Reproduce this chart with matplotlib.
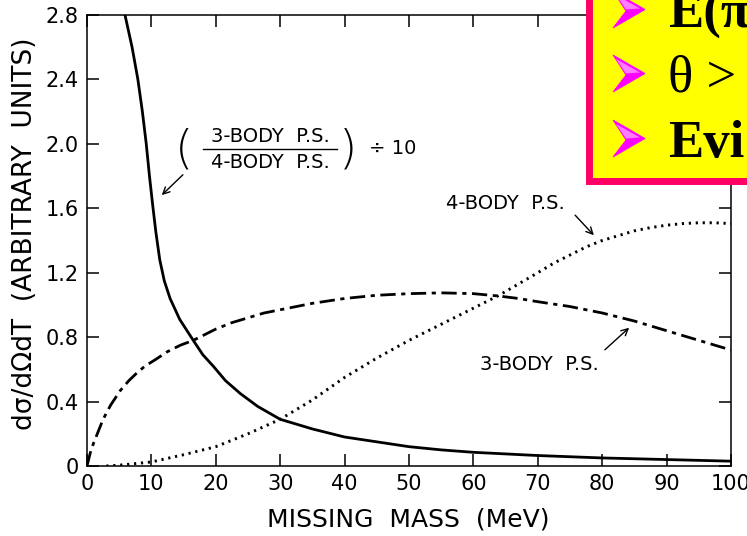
import matplotlib
matplotlib.use("Agg")
import matplotlib.pyplot as plt
from matplotlib.patches import Rectangle, Polygon

plt.rcParams["font.family"] = ["DejaVu Sans"]
plt.rcParams["lines.scale_dashes"] = False

# ---- data (missing mass in MeV, cross section in arbitrary units) ----
ratio_x = [5.9, 7.0, 7.9, 8.6, 9.2, 9.7, 10.2, 10.7, 11.3, 12.0, 12.9, 14.4, 16.5, 18.0,
           19.6, 21.5, 23.8, 26.5, 30, 35, 40, 45, 50, 55, 60, 70, 80, 90, 100]
ratio_y = [2.80, 2.60, 2.40, 2.20, 2.00, 1.80, 1.62, 1.45, 1.28, 1.15, 1.04, 0.91, 0.78,
           0.69, 0.62, 0.53, 0.45, 0.37, 0.29, 0.23, 0.18, 0.15, 0.12, 0.10, 0.085,
           0.065, 0.05, 0.04, 0.03]

three_x = [0, 0.5, 1.0, 1.6, 2.5, 3.7, 5.2, 6.5, 7.8, 9.0, 10.6, 12.5, 14.5, 16.5, 18, 20,
           22.5, 25, 27.5, 30, 35, 40, 45, 50, 55, 60, 64, 67, 70, 75, 80, 85, 90, 95, 100]
three_y = [0.0, 0.08, 0.14, 0.20, 0.29, 0.38, 0.47, 0.53, 0.58, 0.62, 0.66, 0.71, 0.75,
           0.78, 0.81, 0.85, 0.89, 0.92, 0.95, 0.97, 1.01, 1.04, 1.06, 1.07, 1.075, 1.07,
           1.055, 1.04, 1.02, 0.99, 0.95, 0.90, 0.84, 0.78, 0.72]

four_x = [3, 5, 10, 15, 20, 25, 30, 35, 40, 45, 50, 55, 60, 64, 67, 70, 72.5, 75, 77.5,
          80, 82.5, 85, 87.5, 90, 92.5, 95, 97.5, 100]
four_y = [0.0, 0.005, 0.025, 0.07, 0.12, 0.20, 0.29, 0.41, 0.55, 0.67, 0.78, 0.88, 0.98,
          1.06, 1.13, 1.20, 1.26, 1.31, 1.36, 1.40, 1.43, 1.46, 1.48, 1.495, 1.505, 1.51,
          1.51, 1.505]

x_ticks = [0, 10, 20, 30, 40, 50, 60, 70, 80, 90, 100]
y_ticks = [0, 0.4, 0.8, 1.2, 1.6, 2.0, 2.4, 2.8]
y_tick_labels = ["0", "0.4", "0.8", "1.2", "1.6", "2.0", "2.4", "2.8"]

W, H = 747, 536
fig = plt.figure(figsize=(W / 100, H / 100), dpi=100)
ax = fig.add_axes([87 / W, 70 / H, 644 / W, 451 / H])

ax.plot(ratio_x, ratio_y, color="black", lw=2.0, solid_joinstyle="round")
ax.plot(three_x, three_y, color="black", lw=2.0, linestyle=(0, (11, 4, 3, 4)))
ax.plot(four_x, four_y, color="black", lw=2.1, linestyle=(0, (1.6, 3.4)))

ax.set_xlim(0, 100)
ax.set_ylim(0, 2.8)
ax.set_xticks(x_ticks)
ax.set_xticklabels([str(v) for v in x_ticks])
ax.set_yticks(y_ticks)
ax.set_yticklabels(y_tick_labels)
ax.tick_params(direction="in", length=8.5, width=1.1, top=True, right=True,
               labelsize=15, pad=6, colors="black")
for s in ax.spines.values():
    s.set_linewidth(1.1)

fig.text(408 / W, 1 - 519 / H, "MISSING  MASS  (MeV)", ha="center", va="center",
         fontsize=18)
fig.text(25 / W, 1 - 234 / H, "dσ/dΩdT  (ARBITRARY  UNITS)", ha="center", va="center",
         rotation=90, fontsize=19)

# ratio label drawn as a fraction in big parentheses
ann = 14
ax.text(28.4, 2.045, "3-BODY  P.S.", ha="center", va="center", fontsize=ann)
ax.text(28.4, 1.885, "4-BODY  P.S.", ha="center", va="center", fontsize=ann)
ax.plot([18.0, 38.8], [1.967, 1.967], color="black", lw=1.0)
ax.text(15.0, 1.965, "(", ha="center", va="center", fontsize=34, fontweight="light")
ax.text(40.6, 1.965, ")", ha="center", va="center", fontsize=34, fontweight="light")
ax.text(47.5, 1.97, "÷ 10", ha="center", va="center", fontsize=ann)
ax.annotate("", xy=(11.3, 1.67), xytext=(15.2, 1.82),
            arrowprops=dict(arrowstyle="->", lw=1.0, color="black", mutation_scale=12))

ax.text(64.9, 1.63, "4-BODY  P.S.", ha="center", va="center", fontsize=ann)
ax.annotate("", xy=(79.0, 1.42), xytext=(75.5, 1.57),
            arrowprops=dict(arrowstyle="->", lw=1.0, color="black", mutation_scale=12))

ax.text(70.2, 0.63, "3-BODY  P.S.", ha="center", va="center", fontsize=ann)
ax.annotate("", xy=(84.5, 0.87), xytext=(80.1, 0.71),
            arrowprops=dict(arrowstyle="->", lw=1.0, color="black", mutation_scale=12))

# highlighted note box in the upper right corner (pixel coordinates)
bx = fig.add_axes([585 / W, 1 - 185 / H, (W - 585) / W, 185 / H], zorder=10)
bx.set_xlim(585, W)
bx.set_ylim(185, 0)
bx.axis("off")
bx.add_patch(Rectangle((588.5, -20), 300, 201, facecolor="#FFFF00", edgecolor="#FF0066",
                       lw=5.0, clip_on=True))
lines = ["E(π", "θ >", "Evi"]
weights = ["bold", "normal", "bold"]
baselines = [28, 92, 157]
bl, bw, bh = 613, 32, 37
for txt, wt, yb in zip(lines, weights, baselines):
    top = yb - bh
    mid = yb - bh / 2
    bullet = Polygon([(bl, top), (bl + bw, mid), (bl, yb), (bl + 13, mid + 1.5)],
                     closed=True, facecolor="#FF00FF", edgecolor="#FF00FF", lw=0.6,
                     clip_on=True)
    bx.add_patch(bullet)
    facet = Polygon([(bl + 3, top + 4), (bl + bw - 5, mid - 1), (bl + 13, mid)],
                    closed=True, facecolor="#FF7CFF", edgecolor="none", clip_on=True)
    bx.add_patch(facet)
    bx.text(668, yb, txt, color="black", fontsize=38, fontweight=wt,
            family=["Liberation Serif", "DejaVu Serif"], ha="left", va="baseline",
            clip_on=True)

fig.savefig("out.png", dpi=100)
